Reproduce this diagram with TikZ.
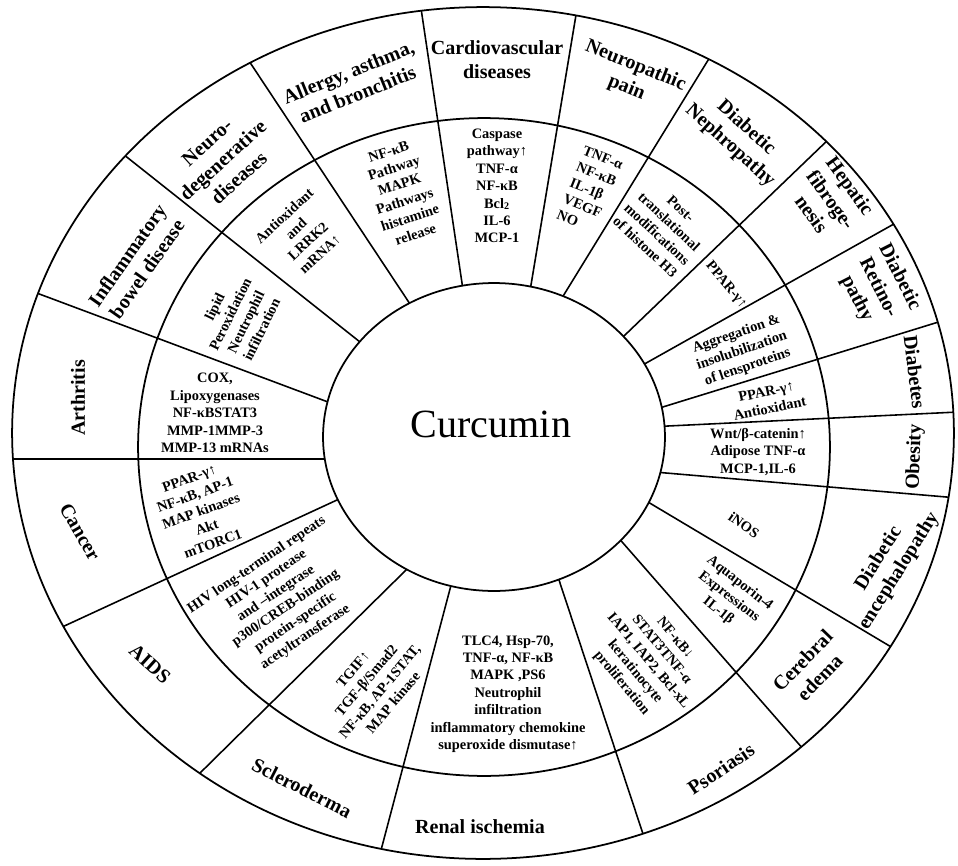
\documentclass[tikz,border=0pt]{standalone}
\usepackage{fontspec}
\setmainfont{Liberation Serif}
\usetikzlibrary{calc}

\begin{document}
\begin{tikzpicture}[
    x=0.02cm, y=-0.02cm,
    spoke/.style={line width=0.9pt},
    ring/.style={line width=1pt},
    dis/.style={font=\fontsize{11.4}{13.6}\selectfont\bfseries, align=center,
      inner sep=0pt},
    mech/.style={font=\fontsize{8.2}{9.9}\selectfont\bfseries, align=center,
      inner sep=0pt},
    hub/.style={font=\fontsize{22.8}{26}\selectfont},
  ]
  \useasboundingbox (0,0) rectangle (958,866);

  % spokes, each one straight from the hub to the rim
  \begin{scope}
    \clip (483,433) ellipse [x radius=9.42cm, y radius=8.52cm];
    \foreach \ax/\ay/\bx/\by in {325/459/12/459, 328/402/42/295,
        360/342/128/158, 412/307/253/67, 462/283/422/15, 531/285/576/15,
        565/293/710/57, 625/335/831/137, 648/362/901/220, 666/406/945/320,
        668/426/958/412, 666/473/958/498, 653/505/903/654, 623/543/811/758,
        560/583/646/843, 450/589/380/854, 403/573/197/776, 337/500/60/628}
      \draw[spoke] ($(\ax,\ay)!-0.3!(\bx,\by)$) -- ($(\ax,\ay)!1.3!(\bx,\by)$);
  \end{scope}

  % rings
  \fill[white] (494,437) ellipse [x radius=3.42cm, y radius=3.08cm];
  \draw[ring] (494,437) ellipse [x radius=3.42cm, y radius=3.08cm];
  \draw[ring] (484,447) ellipse [x radius=6.92cm, y radius=6.58cm];
  \draw[ring] (483,433) ellipse [x radius=9.42cm, y radius=8.52cm];

  \node[hub, anchor=base] (cur) at (491,437) {Curcumin};

  % diseases
  \node[dis, rotate=55] (ibd) at (137,262) {Inflammatory\\bowel disease};
  \node[dis, rotate=42] (neuro) at (223,160) {Neuro-\\degenerative\\diseases};
  \node[dis, rotate=22] (allergy) at (353,83) {Allergy, asthma,\\and bronchitis};
  \node[dis] (cardio) at (497,60) {Cardiovascular\\diseases};
  \node[dis, rotate=-22] (neuropain) at (631,77) {Neuropathic\\pain};
  \node[dis, rotate=-42] (nephro) at (738,137) {Diabetic\\Nephropathy};
  \node[dis, rotate=-54] (hepatic) at (831,200) {Hepatic\\fibroge-\\nesis};
  \node[dis, rotate=-63] (retino) at (878,288) {Diabetic\\Retino-\\pathy};
  \node[dis, rotate=-83] (diabetes) at (915,372) {Diabetes};
  \node[dis, rotate=88] (obesity) at (915,457) {Obesity};
  \node[dis, rotate=58] (enceph) at (889,565) {Diabetic\\encephalopathy};
  \node[dis, rotate=46] (cerebral) at (811,669) {Cerebral\\edema};
  \node[dis, rotate=34] (psoriasis) at (721,769) {Psoriasis};
  \node[dis] (renal) at (480,827) {Renal ischemia};
  \node[dis, rotate=-27] (sclero) at (302,788) {Scleroderma};
  \node[dis, rotate=-42] (aids) at (150,664) {AIDS};
  \node[dis, rotate=-60] (cancer) at (80,532) {Cancer};
  \node[dis, rotate=90] (arthritis) at (78,398) {Arthritis};

  % mechanisms
  \node[mech, rotate=64] (ibdM) at (238,318) {lipid\\Peroxidation\\Neutrophil\\infiltration};
  \node[mech, rotate=43] (neuroM) at (302,235) {Antioxidant\\and\\LRRK2\\mRNA↑};
  \node[mech, rotate=18] (allergyM) at (402,193) {NF-κB\\Pathway\\MAPK\\Pathways\\histamine\\release};
  \node[mech] (cardioM) at (497,186) {Caspase\\pathway↑\\TNF-α\\NF-κB\\Bcl\textsubscript{2}\\IL-6\\MCP-1};
  \node[mech, rotate=-22, align=left] (painM) at (590,190) {TNF-α\\NF-κB\\IL-1β\\VEGF\\NO};
  \node[mech, rotate=-43] (nephroM) at (663,228) {Post-\\translational\\modifications\\of histone H3};
  \node[mech, rotate=-50] (hepaticM) at (726,285) {PPAR-γ↑};
  \node[mech, rotate=19] (retinoM) at (742,351) {Aggregation \&\\insolubilization\\of lensproteins};
  \node[mech, rotate=12] (diabetesM) at (768,400) {PPAR-γ↑\\Antioxidant};
  \node[mech] (obesityM) at (758,452) {Wnt/β-catenin↑\\Adipose TNF-α\\MCP-1,IL-6};
  \node[mech, rotate=-35] (encephM) at (744,525) {iNOS};
  \node[mech, rotate=-38] (cerebralM) at (729,597) {Aquaporin-4\\Expressions\\IL-1β};
  \node[mech, rotate=-50] (psoriasisM) at (648,661) {NF-κB↓\\STAT3TNF-α\\IAP1, IAP2, Bcl-xL\\keratinocyte\\proliferation};
  \node[mech] (renalM) at (508,694) {TLC4, Hsp-70,\\TNF-α, NF-κB\\MAPK ,PS6\\Neutrophil\\infiltration\\inflammatory chemokine\\superoxide dismutase↑};
  \node[mech, rotate=50] (scleroM) at (373,686) {TGIF↑\\TGF-β/Smad2\\NF-κB, AP-1STAT,\\MAP kinase};
  \node[mech, rotate=34] (aidsM) at (281,601) {HIV long-terminal repeats\\HIV-1 protease\\and –integrase\\p300/CREB-binding\\protein-specific\\acetyltransferase};
  \node[mech, rotate=20] (cancerM) at (201,511) {PPAR-γ↑\\NF-κB, AP-1\\MAP kinases\\Akt\\mTORC1};
  \node[mech] (arthritisM) at (215,413) {COX,\\Lipoxygenases\\NF-κBSTAT3\\MMP-1MMP-3\\MMP-13 mRNAs};
\end{tikzpicture}
\end{document}
